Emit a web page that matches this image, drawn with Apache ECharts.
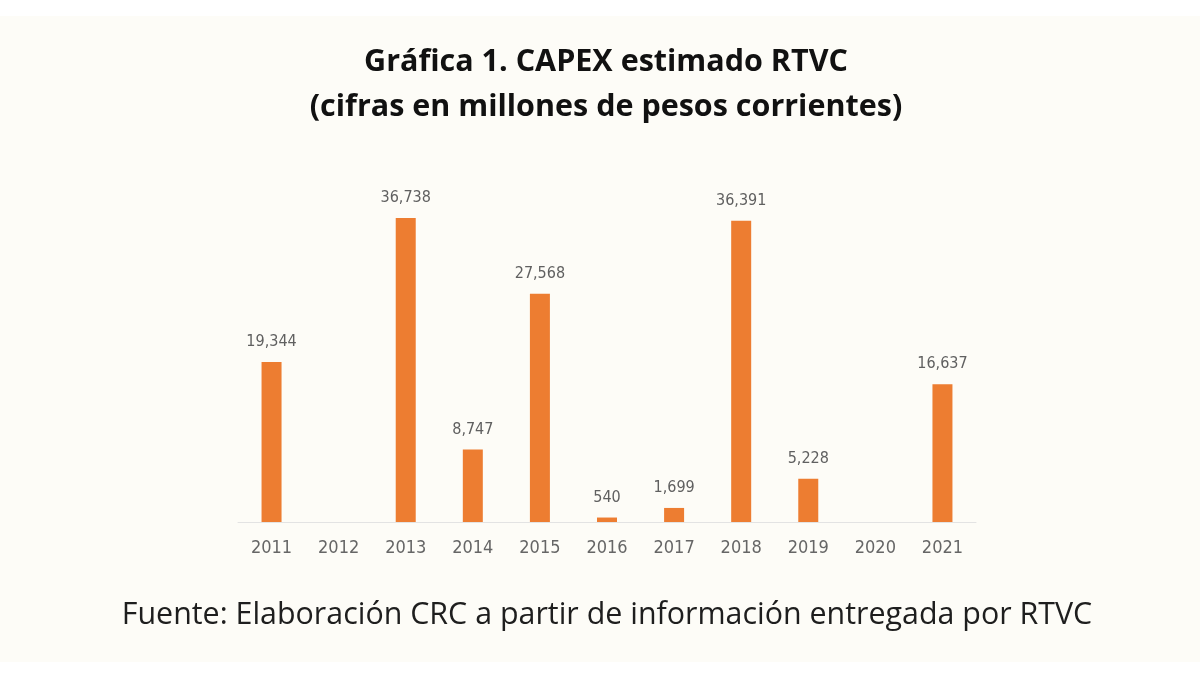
<!DOCTYPE html>
<html>
<head>
<meta charset="utf-8">
<script src="https://cdn.jsdelivr.net/npm/echarts@6/dist/echarts.min.js"></script>
<style>html,body{margin:0;padding:0;background:#fff;}#c{width:1200px;height:675px;}</style>
</head>
<body>
<div id="c"></div>
<script>
const titleLines = ['Gráfica 1. CAPEX estimado RTVC', '(cifras en millones de pesos corrientes)'];
const sourceText = 'Fuente: Elaboración CRC a partir de información entregada por RTVC';
const years = ['2011','2012','2013','2014','2015','2016','2017','2018','2019','2020','2021'];
const capex = [19344, null, 36738, 8747, 27568, 540, 1699, 36391, 5228, null, 16637];

const chart = echarts.init(document.getElementById('c'));
chart.setOption({
  backgroundColor: '#ffffff',
  animation: false,
  graphic: [
    { type: 'rect', z: -10, shape: { x: 0, y: 16, width: 1200, height: 646 }, style: { fill: '#fdfcf7' } },
    { type: 'text', x: 606, y: 62, style: { text: titleLines[0], font: 'bold 30.5px "Open Sans"', fill: '#111', align: 'center', verticalAlign: 'middle' } },
    { type: 'text', x: 606, y: 107, style: { text: titleLines[1], font: 'bold 30.5px "Open Sans"', fill: '#111', align: 'center', verticalAlign: 'middle' } },
    { type: 'text', x: 607, y: 615, style: { text: sourceText, font: '30.4px "Open Sans"', fill: '#1e1e1e', align: 'center', verticalAlign: 'middle' } }
  ],
  grid: { left: 238, right: 224, top: 191, bottom: 153 },
  xAxis: {
    type: 'category',
    data: years,
    axisLine: { lineStyle: { color: '#e3e3e3', width: 1 } },
    axisTick: { show: false },
    axisLabel: { color: '#666', fontSize: 18, fontFamily: 'DejaVu Sans Condensed', margin: 17 }
  },
  yAxis: {
    type: 'value', min: 0, max: 40000,
    show: false,
    splitLine: { show: false }
  },
  series: [{
    type: 'bar',
    data: capex,
    barWidth: 20,
    itemStyle: { color: '#ed7d31' },
    label: {
      show: true, position: 'top', distance: 12,
      color: '#606060', fontSize: 16, fontFamily: 'DejaVu Sans Condensed',
      formatter: p => p.value == null ? '' : p.value.toLocaleString('en-US')
    }
  }]
});
</script>
</body>
</html>
